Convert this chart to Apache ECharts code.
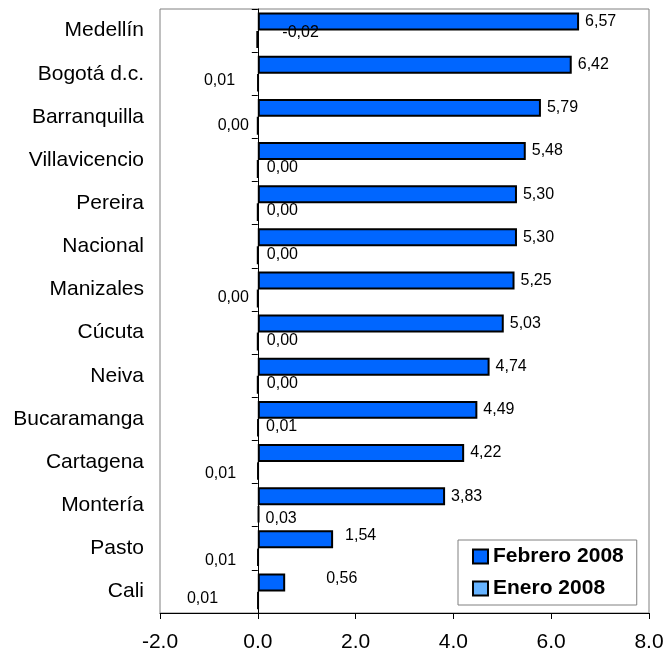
<!DOCTYPE html>
<html>
<head>
<meta charset="utf-8">
<script src="https://cdn.jsdelivr.net/npm/echarts@6/dist/echarts.min.js"></script>
<style>
html,body{margin:0;padding:0;background:#fff;}
#chart{width:667px;height:653px;}
</style>
</head>
<body>
<div id="chart"></div>
<script>
// ---- data ----
const categories = ['Medellín','Bogotá d.c.','Barranquilla','Villavicencio','Pereira','Nacional','Manizales','Cúcuta','Neiva','Bucaramanga','Cartagena','Montería','Pasto','Cali'];
const febrero2008 = [6.57, 6.42, 5.79, 5.48, 5.30, 5.30, 5.25, 5.03, 4.74, 4.49, 4.22, 3.83, 1.54, 0.56];
const enero2008 = [-0.02, 0.01, 0.00, 0.00, 0.00, 0.00, 0.00, 0.00, 0.00, 0.01, 0.01, 0.03, 0.01, 0.01];
const seriesNames = ['Febrero 2008', 'Enero 2008'];
const xMin = -2, xMax = 8, xStep = 2;

// ---- label placement (style, not data) ----
const febLabelPlacement = [
  ['right',6,0],['right',6,0],['right',6,0],['right',6,0],['right',6,0],['right',6,0],['right',6,0],
  ['right',6,0],['right',6,0],['right',6,0],['right',6,0],['right',6,0],['right',12,-4],['right',41,-4]
];
const eneLabelPlacement = [
  ['right',24,-7],['left',22,-2],['left',8,0],['right',8,-1],['right',8,-2],['right',8,-1],['left',8,-1],
  ['right',8,-1],['right',8,-1],['right',7,-1],['left',21,3],['right',6,4],['left',21,3],['left',39,-2]
];

const FONT = '"Liberation Sans", Arial, sans-serif';
const fmt = v => v.toFixed(2).replace('.', ',');

function buildData(values, placement) {
  return values.map((v, i) => ({
    value: v,
    label: { position: placement[i][0], distance: placement[i][1], offset: [0, placement[i][2]] }
  }));
}

const labelStyle = {
  show: true,
  color: '#000',
  fontFamily: FONT,
  fontSize: 16,
  formatter: p => fmt(p.value)
};

const chart = echarts.init(document.getElementById('chart'), null, { renderer: 'canvas' });
chart.setOption({
  animation: false,
  backgroundColor: '#fff',
  grid: { left: 160, right: 18, top: 9, bottom: 39, show: true, borderColor: '#808080', borderWidth: 1, containLabel: false },
  legend: {
    data: seriesNames,
    orient: 'vertical',
    left: 458, top: 540,
    padding: [6, 13, 6, 14],
    itemGap: 11,
    itemWidth: 15, itemHeight: 14,
    borderColor: '#808080', borderWidth: 1,
    backgroundColor: '#fff',
    icon: 'rect',
    itemStyle: { borderColor: '#000', borderWidth: 2 },
    textStyle: { fontFamily: FONT, fontSize: 21, fontWeight: 'bold', color: '#000' }
  },
  xAxis: {
    type: 'value',
    min: xMin, max: xMax, interval: xStep,
    axisLine: { show: true, onZero: false, lineStyle: { color: '#000', width: 1 } },
    axisTick: { show: true, length: 6, lineStyle: { color: '#000' } },
    splitLine: { show: false },
    axisLabel: { margin: 19, color: '#000', fontFamily: FONT, fontSize: 21, formatter: v => v.toFixed(1) }
  },
  yAxis: [
    {
      type: 'category',
      data: categories,
      inverse: true,
      axisLine: { show: false, onZero: false },
      axisTick: { show: false },
      axisLabel: { margin: 16, color: '#000', fontFamily: FONT, fontSize: 21 }
    },
    {
      type: 'category',
      data: categories,
      inverse: true,
      position: 'left',
      axisLine: { show: true, onZero: true, lineStyle: { color: '#000', width: 1 } },
      axisTick: { show: true, length: 6, lineStyle: { color: '#000' } },
      axisLabel: { show: false },
      splitLine: { show: false }
    }
  ],
  series: [
    {
      name: seriesNames[0],
      type: 'bar',
      yAxisIndex: 0,
      barGap: '0%',
      barCategoryGap: '16.7%',
      itemStyle: { color: '#0066FF', borderColor: '#000', borderWidth: 2 },
      label: labelStyle,
      data: buildData(febrero2008, febLabelPlacement)
    },
    {
      name: seriesNames[1],
      type: 'bar',
      yAxisIndex: 0,
      barGap: '0%',
      barCategoryGap: '16.7%',
      itemStyle: { color: '#66B3FF', borderColor: '#000', borderWidth: 2 },
      label: labelStyle,
      data: buildData(enero2008, eneLabelPlacement)
    }
  ]
});
</script>
</body>
</html>
